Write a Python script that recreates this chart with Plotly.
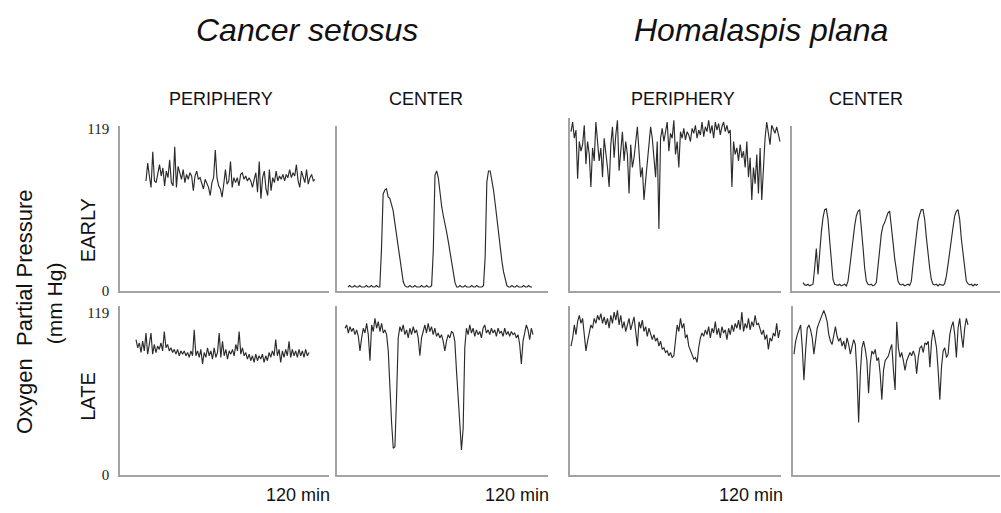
import numpy as np
import plotly.graph_objects as go

# ---------------- data: oxygen partial pressure (mm Hg) ----------------
# every record covers 120 min, evenly sampled
duration_min = 120

cs_early_periphery = [80.7, 93.8, 84.3, 76.0, 102.1, 80.7, 79.5, 87.9, 92.6, 84.3, 90.2, 77.1, 87.9, 83.1, 96.2,
                      79.5, 77.1, 105.7, 76.0, 91.4, 85.5, 81.9, 89.0, 79.5, 85.5, 81.9, 86.7, 84.3, 73.6, 84.3,
                      87.9, 81.9, 83.1, 79.5, 74.8, 81.9, 79.5, 76.0, 70.0, 79.5, 83.1, 103.3, 83.1, 77.1, 74.8,
                      68.8, 78.3, 89.0, 78.3, 80.7, 95.0, 76.0, 83.1, 79.5, 83.1, 77.1, 85.5, 86.7, 81.9, 84.3,
                      80.7, 83.1, 80.7, 76.0, 81.9, 86.7, 72.4, 95.0, 67.6, 83.1, 87.9, 74.8, 70.0, 89.0, 73.6,
                      83.1, 79.5, 87.9, 80.7, 84.3, 81.9, 85.5, 80.7, 85.5, 83.1, 89.0, 83.1, 86.7, 84.3, 92.6,
                      80.7, 76.0, 87.9, 83.1, 79.5, 89.0, 78.3, 83.1, 85.5, 80.7, 81.9]

cs_early_center = [3, 4, 3, 3, 4, 3, 3, 4, 3, 3, 3, 4, 3, 3, 4, 3, 3, 4, 3, 3,
                   30, 71, 74, 75, 69, 68, 63, 59, 50, 41, 33, 23, 14, 7, 4,
                   3, 3, 4, 3, 3, 4, 3, 3, 3, 4, 3, 3, 4, 3, 3, 4,
                   30, 85, 88, 83, 72, 62, 55, 50, 43, 36, 28, 19, 11, 6, 3,
                   3, 4, 3, 3, 4, 3, 3, 3, 4, 3, 3, 4, 3, 3, 3, 4,
                   25, 80, 88, 88, 82, 74, 64, 53, 42, 31, 22, 14, 8, 4, 3,
                   3, 4, 3, 3, 4, 3, 3, 3, 4, 3, 3, 4, 3, 3]

hp_early_periphery = [116.8, 123.9, 112.0, 118.0, 82.3, 109.6, 102.5, 107.3, 121.5, 93.0, 109.6, 100.1, 76.3, 104.9,
                      95.4, 123.9, 109.6, 95.4, 104.9, 83.5, 112.0, 102.5, 90.6, 76.3, 107.3, 120.4, 97.7, 114.4,
                      125.1, 88.2, 104.9, 116.8, 95.4, 109.6, 100.1, 71.6, 107.3, 90.6, 97.7, 112.0, 120.4, 102.5,
                      83.5, 90.6, 66.8, 81.1, 95.4, 104.9, 120.4, 112.0, 100.1, 83.5, 109.6, 45.4, 112.0, 119.2,
                      109.6, 116.8, 123.9, 102.5, 115.6, 112.0, 125.1, 100.1, 109.6, 90.6, 116.8, 112.0, 119.2,
                      110.8, 116.8, 114.4, 109.6, 119.2, 115.6, 121.5, 112.0, 118.0, 114.4, 123.9, 113.2, 120.4,
                      116.8, 125.1, 115.6, 121.5, 112.0, 123.9, 118.0, 122.7, 114.4, 120.4, 123.9, 116.8, 121.5,
                      115.6, 118.0, 76.3, 109.6, 100.1, 104.9, 95.4, 107.3, 97.7, 102.5, 90.6, 109.6, 83.5, 97.7,
                      66.8, 90.6, 78.7, 100.1, 71.6, 104.9, 66.8, 93.0, 112.0, 123.9, 116.8, 107.3, 121.5, 118.0,
                      115.6, 120.4, 114.4, 109.6]

hp_early_center = [6.2, 4.5, 4.2, 5.0, 3.8, 4.2, 5.0, 16.9, 31.1, 12.1, 31.1, 43.0, 53.8, 59.7, 60.2, 52.6, 37.1,
                   20.4, 8.5, 5.0, 4.5, 4.2, 5.0, 3.8, 4.5, 5.0, 3.8, 7.3, 16.9, 28.8, 38.3, 47.8, 55.0, 58.5,
                   59.7, 47.8, 32.3, 16.9, 7.3, 5.0, 4.5, 5.0, 3.8, 4.5, 6.2, 18.1, 31.1, 41.9, 47.8, 50.2, 53.8,
                   57.3, 58.5, 49.0, 35.9, 24.0, 14.5, 7.3, 5.0, 4.5, 5.0, 3.8, 4.5, 5.0, 4.2, 7.3, 19.2, 31.1,
                   43.0, 51.4, 56.1, 59.7, 59.7, 52.6, 39.5, 26.4, 16.9, 8.5, 5.0, 4.5, 5.0, 3.8, 5.0, 4.5, 4.2,
                   5.4, 10.9, 19.2, 29.9, 39.5, 46.6, 55.0, 58.5, 59.7, 52.6, 38.3, 26.4, 14.5, 7.3, 5.4, 4.5,
                   5.0, 3.8, 5.0, 4.2, 5.0]

cs_late_periphery = [99.1, 93.1, 96.7, 89.6, 97.9, 90.8, 103.9, 88.4, 95.5, 103.9, 88.4, 95.5, 89.6, 94.3, 91.9,
                     96.7, 90.8, 105.0, 93.1, 95.5, 90.8, 93.1, 89.6, 91.9, 88.4, 91.9, 87.2, 90.8, 88.4, 90.8,
                     87.2, 89.6, 86.0, 90.8, 87.2, 106.2, 87.2, 90.8, 86.0, 91.9, 81.2, 89.6, 86.0, 93.1, 87.2,
                     90.8, 84.8, 93.1, 86.0, 89.6, 103.9, 86.0, 97.9, 87.2, 91.9, 84.8, 90.8, 88.4, 91.9, 87.2,
                     95.5, 90.8, 105.0, 88.4, 93.1, 87.2, 89.6, 84.8, 88.4, 83.6, 87.2, 82.4, 88.4, 83.6, 87.2,
                     84.8, 88.4, 82.4, 87.2, 83.6, 89.6, 86.0, 90.8, 87.2, 99.1, 87.2, 91.9, 82.4, 90.8, 86.0,
                     91.9, 87.2, 97.9, 86.0, 91.9, 87.2, 90.8, 86.0, 91.9, 87.2, 90.8, 86.0, 91.9, 87.2, 89.6]

cs_late_center = [107.4, 109.8, 103.9, 108.6, 105.0, 107.4, 102.7, 106.2, 101.5, 90.8, 100.3, 107.4, 103.9, 111.0,
                  102.7, 83.6, 109.8, 105.0, 114.6, 107.4, 112.2, 105.0, 111.0, 103.9, 106.2, 102.7, 90.8, 62.2,
                  38.4, 19.4, 20.6, 57.4, 100.3, 108.6, 105.0, 109.8, 102.7, 106.2, 100.3, 107.4, 102.7, 108.6,
                  103.9, 106.2, 100.3, 87.2, 100.3, 105.0, 109.8, 103.9, 111.0, 105.0, 108.6, 102.7, 107.4,
                  101.5, 103.9, 100.3, 102.7, 97.9, 90.8, 97.9, 102.7, 100.3, 105.0, 103.9, 97.9, 76.5, 55.1,
                  38.4, 18.2, 33.6, 93.1, 107.4, 102.7, 109.8, 103.9, 107.4, 101.5, 106.2, 102.7, 105.0, 100.3,
                  107.4, 109.8, 103.9, 106.2, 102.7, 107.4, 103.9, 106.2, 101.5, 107.4, 103.9, 105.0, 101.5,
                  107.4, 102.7, 105.0, 101.5, 105.0, 102.7, 103.9, 100.3, 102.7, 95.5, 81.2, 97.9, 105.0, 109.8,
                  106.2, 99.1, 107.4, 102.7]

hp_late_periphery = [94.3, 100.3, 109.8, 102.7, 112.2, 116.9, 111.0, 114.6, 102.7, 90.8, 97.9, 105.0, 109.8, 107.4,
                     114.6, 111.0, 116.9, 113.4, 118.1, 111.0, 115.8, 109.8, 114.6, 107.4, 116.9, 111.0, 119.3,
                     113.4, 120.5, 109.8, 116.9, 107.4, 112.2, 105.0, 109.8, 114.6, 106.2, 111.0, 115.8, 105.0,
                     94.3, 112.2, 107.4, 113.4, 105.0, 108.6, 101.5, 107.4, 103.9, 99.1, 102.7, 97.9, 100.3, 94.3,
                     97.9, 91.9, 93.1, 89.6, 90.8, 87.2, 89.6, 86.0, 87.2, 97.9, 109.8, 105.0, 114.6, 107.4, 111.0,
                     100.3, 102.7, 94.3, 90.8, 88.4, 84.8, 86.0, 82.4, 93.1, 100.3, 103.9, 101.5, 106.2, 102.7,
                     108.6, 100.3, 107.4, 103.9, 112.2, 102.7, 107.4, 100.3, 108.6, 103.9, 106.2, 99.1, 107.4,
                     102.7, 109.8, 105.0, 111.0, 107.4, 113.4, 106.2, 119.3, 105.0, 111.0, 107.4, 114.6, 106.2,
                     112.2, 108.6, 116.9, 109.8, 111.0, 107.4, 102.7, 106.2, 99.1, 102.7, 91.9, 100.3, 97.9, 103.9,
                     101.5, 111.0, 100.3, 106.2]

hp_late_center = [88.4, 97.9, 102.7, 106.2, 109.8, 93.1, 69.3, 90.8, 107.4, 109.8, 106.2, 100.3, 88.4, 97.9, 107.4,
                  111.0, 114.6, 118.1, 120.5, 116.9, 112.2, 102.7, 97.9, 95.5, 103.9, 108.6, 101.5, 97.9, 100.3,
                  94.3, 97.9, 91.9, 100.3, 95.5, 88.4, 93.1, 99.1, 95.5, 74.1, 38.4, 74.1, 93.1, 97.9, 91.9, 83.6,
                  59.8, 81.2, 90.8, 88.4, 91.9, 83.6, 86.0, 74.1, 55.1, 76.5, 83.6, 86.0, 87.2, 91.9, 95.5, 76.5,
                  62.2, 112.2, 93.1, 86.0, 89.6, 83.6, 76.5, 83.6, 87.2, 89.6, 87.2, 90.8, 87.2, 74.1, 86.0, 93.1,
                  94.3, 89.6, 96.7, 95.5, 97.9, 78.9, 97.9, 106.2, 100.3, 93.1, 76.5, 55.1, 78.9, 90.8, 93.1, 86.0,
                  88.4, 102.7, 108.6, 112.2, 102.7, 86.0, 107.4, 114.6, 102.7, 93.1, 107.4, 114.6, 109.8]

species = ["Cancer setosus", "Homalaspis plana"]
sites = ["PERIPHERY", "CENTER", "PERIPHERY", "CENTER"]
stages = ["EARLY", "LATE"]
y_tick_vals = [0, 119]
time_label = "120 min"
y_title = "Oxygen\u00a0\u00a0Partial Pressure"
y_units = "(mm Hg)"

# ---------------- layout (pixels of the 1001 x 513 page) ----------------
W, H = 1001, 513
PX_PER_UNIT = 1.4
ROW_BOTTOM = [293.5, 482.0]

# series, row, axis left, axis right, data start, data end, y max
panels = [
    (cs_early_periphery, 0, 120, 329, 146, 315, 121.0),
    (cs_early_center,    0, 337, 548, 348, 532, 121.0),
    (hp_early_periphery, 0, 570, 781, 571, 780, 126.5),
    (hp_early_center,    0, 792, 1000, 803, 978, 121.0),
    (cs_late_periphery,  1, 120, 329, 136, 309, 124.0),
    (cs_late_center,     1, 337, 548, 345, 533, 124.0),
    (hp_late_periphery,  1, 570, 781, 571, 780, 124.0),
    (hp_late_center,     1, 793, 1000, 794, 968, 124.0),
]

AXIS_COLOR = "#a3a3a3"
TRACE_COLOR = "#2b2b2b"
SANS = "Arial, Liberation Sans, sans-serif"
SERIF = "Times New Roman, Liberation Serif, serif"

fig = go.Figure()
layout = {}
for i, (vals, row, a0, a1, d0, d1, ymax) in enumerate(panels):
    k = "" if i == 0 else str(i + 1)
    t = np.linspace(0, duration_min, len(vals))
    fig.add_trace(go.Scatter(x=t, y=vals, mode="lines", xaxis="x" + k, yaxis="y" + k,
                             line=dict(color=TRACE_COLOR, width=1.15), hoverinfo="skip"))
    scale = (d1 - d0) / duration_min
    xr = [-(d0 - a0) / scale, duration_min + (a1 - d1) / scale]
    bottom = ROW_BOTTOM[row]
    top = bottom - ymax * PX_PER_UNIT
    first_col = a0 < 200
    layout["xaxis" + k] = dict(domain=[a0 / W, a1 / W], range=xr, anchor="y" + k,
                               showline=True, linecolor=AXIS_COLOR, linewidth=1.5,
                               showgrid=False, zeroline=False, showticklabels=False, ticks="")
    ya = dict(domain=[1 - bottom / H, 1 - top / H], range=[0, ymax], anchor="x" + k,
              showline=True, linecolor=AXIS_COLOR, linewidth=1.5,
              showgrid=False, zeroline=False)
    if first_col:
        ya.update(tickvals=y_tick_vals, ticktext=[str(v) for v in y_tick_vals],
                  showticklabels=True, ticks="outside", ticklen=6, tickcolor="rgba(0,0,0,0)",
                  tickfont=dict(family=SERIF, size=15, color="#222"))
    else:
        ya.update(showticklabels=False, ticks="")
    layout["yaxis" + k] = ya

def ann(text, x, y, size, angle=0, xanchor="center", family=SANS):
    return dict(text=text, x=x / W, y=1 - y / H, xref="paper", yref="paper",
                showarrow=False, xanchor=xanchor, yanchor="middle", textangle=angle,
                font=dict(family=family, size=size, color="#111"))

annotations = [
    ann("<i>" + species[0] + "</i>", 307, 26, 32),
    ann("<i>" + species[1] + "</i>", 761, 26, 32),
]
for name, cx in zip(sites, [221, 426, 683, 866]):
    annotations.append(ann(name, cx, 96, 18))
annotations.append(ann(y_title, 24, 315, 22, -90))
annotations.append(ann(y_units, 54, 306, 21, -90))
annotations.append(ann(stages[0], 88, 231, 20, -90))
annotations.append(ann(stages[1], 88, 402, 20, -90))
for xr_ in [332, 551, 785]:
    annotations.append(ann(time_label, xr_, 503, 18, xanchor="right"))

fig.update_layout(width=W, height=H, margin=dict(l=0, r=0, t=0, b=0),
                  paper_bgcolor="white", plot_bgcolor="white", showlegend=False,
                  annotations=annotations, **layout)

fig.write_html("out.html")
